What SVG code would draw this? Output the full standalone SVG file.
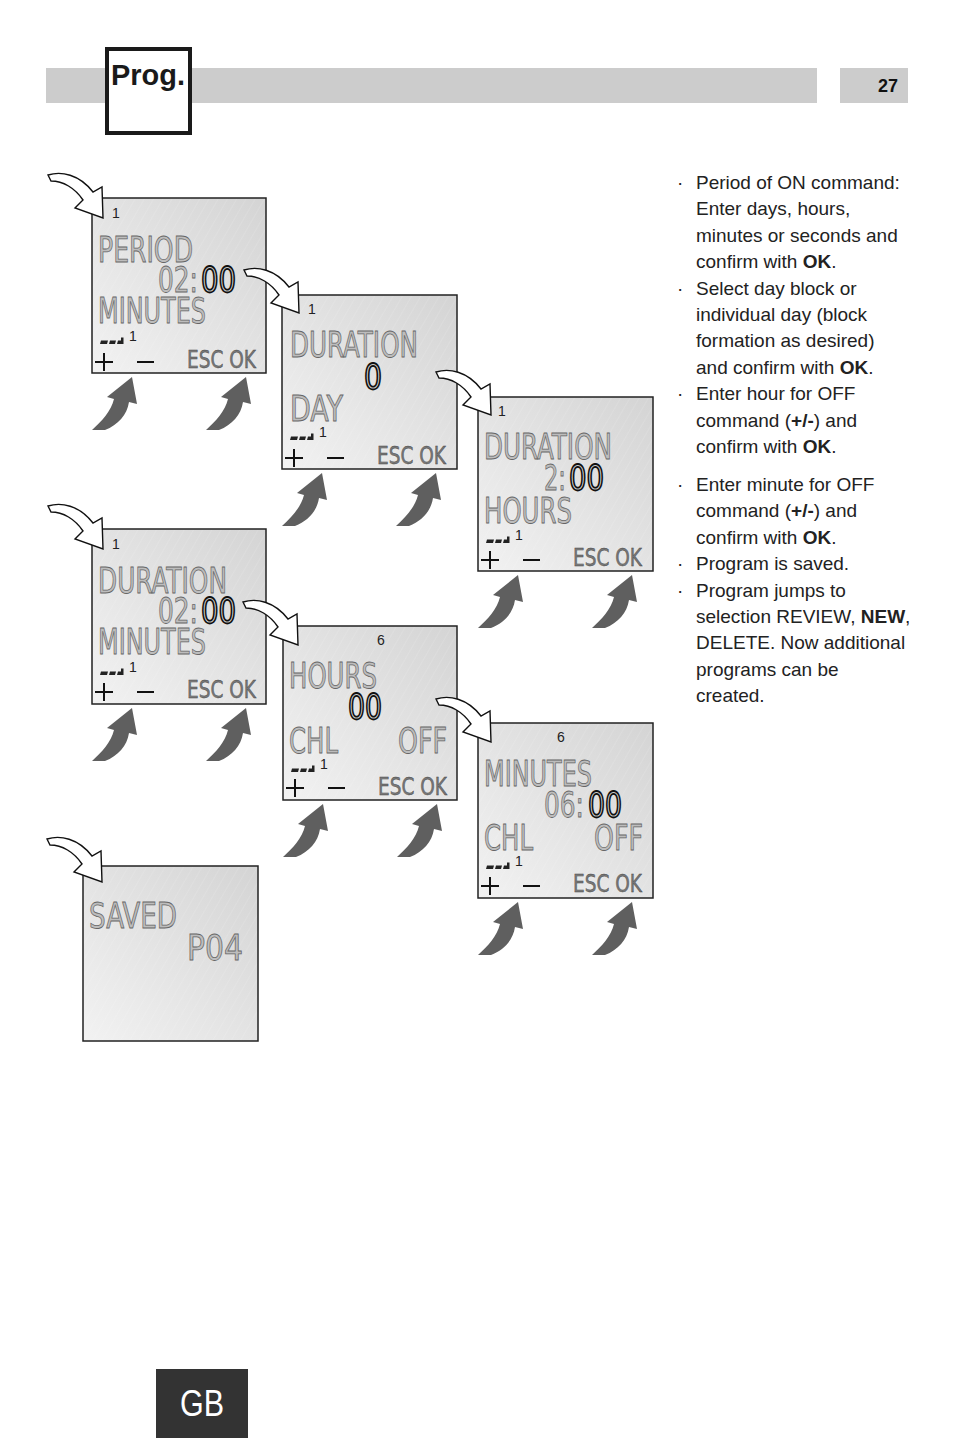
<svg xmlns="http://www.w3.org/2000/svg" xmlns:xlink="http://www.w3.org/1999/xlink" width="954" height="1438" viewBox="0 0 954 1438">
<style>
.seg{font-family:"Liberation Sans Narrow","DejaVu Sans Condensed","Liberation Sans",sans-serif;font-size:35px;fill:#bdbdbd;stroke:#666;stroke-width:0.8}
.segb{font-family:"Liberation Sans Narrow","DejaVu Sans Condensed","Liberation Sans",sans-serif;font-size:35px;fill:#d4d4d4;stroke:#111;stroke-width:1.8}
.esc{font-family:"Liberation Sans Narrow","DejaVu Sans Condensed","Liberation Sans",sans-serif;font-size:24px;fill:#777;stroke:#444;stroke-width:0.4}
.ind{font-family:"Liberation Sans",sans-serif;font-size:14px;fill:#222}
.pm{stroke:#111;stroke-width:2;fill:none}
.sym{fill:#222}
.lcd{fill:url(#lcdg);stroke:#222;stroke-width:1.5}
.hatch{fill:url(#hatch)}
.body{font-family:"Liberation Sans",Arial,sans-serif;font-size:19px;fill:#222}
.body tspan.b{font-weight:bold}
.enter{fill:#fff;stroke:#111;stroke-width:1.4;stroke-linejoin:miter}
.press{fill:#5f5f5f}
</style>
<defs>
<linearGradient id="lcdg" x1="1" y1="0" x2="0" y2="1">
<stop offset="0" stop-color="#d4d4d4"/>
<stop offset="1" stop-color="#f2f2f2"/>
</linearGradient>
<pattern id="hatch" width="8" height="8" patternUnits="userSpaceOnUse" patternTransform="rotate(30)">
<line x1="0" y1="0" x2="0" y2="8" stroke="#ffffff" stroke-opacity="0.22" stroke-width="1"/>
</pattern>
<path id="enterArrow" class="enter" d="M-55,-43 C-42,-47 -24,-44 -10,-26 L-1,-31 L0,0 L-28,-10 L-20,-18 C-28,-30 -40,-37 -52,-37 Z"/>
<path id="pressArrow" class="press" d="M0,0 L5,27 L-3,25 C-5,38 -14,48 -27,53 L-40,53 C-30,44 -21,34 -18,22 L-25,20 Z"/>
<g id="penSym">
<path d="M8,146 l1,-3.5 h7 l-1,3.5 z M17,146 l1,-3.5 h6 l-1,3.5 z M25,146 l1,-3.5 h3 v-3 h2.5 v6.5 z"/>
</g>
</defs>

<rect width="954" height="1438" fill="#fff"/>

<!-- header -->
<g id="header">
<rect x="46" y="68" width="771" height="35" fill="#cccccc"/>
<rect x="107" y="49" width="83" height="84" fill="#fff" stroke="#1a1a1a" stroke-width="4"/>
<text x="111" y="85" font-family="Liberation Sans,Arial,sans-serif" font-weight="bold" font-size="30" fill="#1a1a1a" textLength="74" lengthAdjust="spacingAndGlyphs">Prog.</text>
<rect x="840" y="68" width="68" height="35" fill="#cccccc"/>
<text x="898" y="92" text-anchor="end" font-family="Liberation Sans,Arial,sans-serif" font-weight="bold" font-size="18" fill="#111">27</text>
</g>

<!-- Panel 1 -->
<g id="panel1">
<rect class="lcd" x="92" y="198" width="174" height="175"/>
<rect class="hatch" x="93" y="199" width="172" height="173"/>
<text class="ind" x="112" y="218">1</text>
<text class="seg" x="98" y="262" textLength="95" lengthAdjust="spacingAndGlyphs">PERIOD</text>
<text class="seg" x="158" y="292" textLength="40" lengthAdjust="spacingAndGlyphs">02:</text>
<text class="segb" x="201" y="292" textLength="35" lengthAdjust="spacingAndGlyphs">00</text>
<text class="seg" x="98" y="323" textLength="108" lengthAdjust="spacingAndGlyphs">MINUTES</text>
<use xlink:href="#penSym" x="92" y="198" class="sym"/>
<text class="ind" x="129" y="341" font-size="11">1</text>
<path class="pm" d="M95,362 h18 M104,353 v18 M137,362 h17"/>
<text class="esc" x="187" y="368" textLength="69" lengthAdjust="spacingAndGlyphs">ESC OK</text>
</g>

<!-- Panel 2 -->
<g id="panel2">
<rect class="lcd" x="282" y="295" width="175" height="174"/>
<rect class="hatch" x="283" y="296" width="173" height="172"/>
<text class="ind" x="308" y="314">1</text>
<text class="seg" x="290" y="357" textLength="128" lengthAdjust="spacingAndGlyphs">DURATION</text>
<text class="segb" x="364" y="389" textLength="18" lengthAdjust="spacingAndGlyphs">0</text>
<text class="seg" x="290" y="421" textLength="53" lengthAdjust="spacingAndGlyphs">DAY</text>
<use xlink:href="#penSym" x="282" y="294" class="sym"/>
<text class="ind" x="319" y="437" font-size="11">1</text>
<path class="pm" d="M285,458 h18 M294,449 v18 M327,458 h17"/>
<text class="esc" x="377" y="464" textLength="69" lengthAdjust="spacingAndGlyphs">ESC OK</text>
</g>

<!-- Panel 3 -->
<g id="panel3">
<rect class="lcd" x="478" y="397" width="175" height="174"/>
<rect class="hatch" x="479" y="398" width="173" height="172"/>
<text class="ind" x="498" y="416">1</text>
<text class="seg" x="484" y="459" textLength="128" lengthAdjust="spacingAndGlyphs">DURATION</text>
<text class="seg" x="544" y="490" textLength="22" lengthAdjust="spacingAndGlyphs">2:</text>
<text class="segb" x="569" y="490" textLength="35" lengthAdjust="spacingAndGlyphs">00</text>
<text class="seg" x="484" y="523" textLength="88" lengthAdjust="spacingAndGlyphs">HOURS</text>
<use xlink:href="#penSym" x="478" y="397" class="sym"/>
<text class="ind" x="515" y="540" font-size="11">1</text>
<path class="pm" d="M481,560 h18 M490,551 v18 M523,560 h17"/>
<text class="esc" x="573" y="566" textLength="69" lengthAdjust="spacingAndGlyphs">ESC OK</text>
</g>

<!-- Panel 4 -->
<g id="panel4">
<rect class="lcd" x="92" y="529" width="174" height="175"/>
<rect class="hatch" x="93" y="530" width="172" height="173"/>
<text class="ind" x="112" y="549">1</text>
<text class="seg" x="98" y="593" textLength="129" lengthAdjust="spacingAndGlyphs">DURATION</text>
<text class="seg" x="158" y="623" textLength="40" lengthAdjust="spacingAndGlyphs">02:</text>
<text class="segb" x="201" y="623" textLength="35" lengthAdjust="spacingAndGlyphs">00</text>
<text class="seg" x="98" y="654" textLength="108" lengthAdjust="spacingAndGlyphs">MINUTES</text>
<use xlink:href="#penSym" x="92" y="529" class="sym"/>
<text class="ind" x="129" y="672" font-size="11">1</text>
<path class="pm" d="M95,692 h18 M104,683 v18 M137,692 h17"/>
<text class="esc" x="187" y="698" textLength="69" lengthAdjust="spacingAndGlyphs">ESC OK</text>
</g>

<!-- Panel 5 -->
<g id="panel5">
<rect class="lcd" x="283" y="626" width="174" height="174"/>
<rect class="hatch" x="284" y="627" width="172" height="172"/>
<text class="ind" x="377" y="645">6</text>
<text class="seg" x="289" y="688" textLength="88" lengthAdjust="spacingAndGlyphs">HOURS</text>
<text class="segb" x="348" y="719" textLength="34" lengthAdjust="spacingAndGlyphs">00</text>
<text class="seg" x="289" y="753" textLength="49" lengthAdjust="spacingAndGlyphs">CHL</text>
<text class="seg" x="398" y="753" textLength="49" lengthAdjust="spacingAndGlyphs">OFF</text>
<use xlink:href="#penSym" x="283" y="626" class="sym"/>
<text class="ind" x="320" y="769" font-size="11">1</text>
<path class="pm" d="M286,788 h18 M295,779 v18 M328,788 h17"/>
<text class="esc" x="378" y="795" textLength="69" lengthAdjust="spacingAndGlyphs">ESC OK</text>
</g>

<!-- Panel 6 -->
<g id="panel6">
<rect class="lcd" x="478" y="723" width="175" height="175"/>
<rect class="hatch" x="479" y="724" width="173" height="173"/>
<text class="ind" x="557" y="742">6</text>
<text class="seg" x="484" y="786" textLength="108" lengthAdjust="spacingAndGlyphs">MINUTES</text>
<text class="seg" x="544" y="817" textLength="40" lengthAdjust="spacingAndGlyphs">06:</text>
<text class="segb" x="588" y="817" textLength="34" lengthAdjust="spacingAndGlyphs">00</text>
<text class="seg" x="484" y="850" textLength="49" lengthAdjust="spacingAndGlyphs">CHL</text>
<text class="seg" x="594" y="850" textLength="49" lengthAdjust="spacingAndGlyphs">OFF</text>
<use xlink:href="#penSym" x="478" y="723" class="sym"/>
<text class="ind" x="515" y="866" font-size="11">1</text>
<path class="pm" d="M481,886 h18 M490,877 v18 M523,886 h17"/>
<text class="esc" x="573" y="892" textLength="69" lengthAdjust="spacingAndGlyphs">ESC OK</text>
</g>

<!-- Panel 7 -->
<g id="panel7">
<rect class="lcd" x="83" y="866" width="175" height="175"/>
<rect class="hatch" x="84" y="867" width="173" height="173"/>
<text class="seg" x="89" y="928" textLength="88" lengthAdjust="spacingAndGlyphs">SAVED</text>
<text class="seg" x="187" y="960" textLength="56" lengthAdjust="spacingAndGlyphs">P04</text>
</g>

<!-- connectors -->
<g id="connectors">
<use xlink:href="#enterArrow" x="103" y="218"/>
<use xlink:href="#enterArrow" x="299" y="313"/>
<use xlink:href="#enterArrow" x="491" y="415"/>
<use xlink:href="#enterArrow" x="103" y="549"/>
<use xlink:href="#enterArrow" x="298" y="645"/>
<use xlink:href="#enterArrow" x="491" y="742"/>
<use xlink:href="#enterArrow" x="102" y="882"/>
<use xlink:href="#pressArrow" x="132" y="377"/>
<use xlink:href="#pressArrow" x="246" y="377"/>
<use xlink:href="#pressArrow" x="322" y="473"/>
<use xlink:href="#pressArrow" x="436" y="473"/>
<use xlink:href="#pressArrow" x="518" y="575"/>
<use xlink:href="#pressArrow" x="632" y="575"/>
<use xlink:href="#pressArrow" x="132" y="708"/>
<use xlink:href="#pressArrow" x="246" y="708"/>
<use xlink:href="#pressArrow" x="323" y="804"/>
<use xlink:href="#pressArrow" x="437" y="804"/>
<use xlink:href="#pressArrow" x="518" y="902"/>
<use xlink:href="#pressArrow" x="632" y="902"/>
</g>

<!-- instructions -->
<g id="instructions" class="body">
<text x="677" y="189">·</text>
<text x="696" y="189">Period of ON command:</text>
<text x="696" y="215.4">Enter days, hours,</text>
<text x="696" y="241.8">minutes or seconds and</text>
<text x="696" y="268.2">confirm with <tspan class="b">OK</tspan>.</text>
<text x="677" y="294.6">·</text>
<text x="696" y="294.6">Select day block or</text>
<text x="696" y="321">individual day (block</text>
<text x="696" y="347.4">formation as desired)</text>
<text x="696" y="373.8">and confirm with <tspan class="b">OK</tspan>.</text>
<text x="677" y="400.2">·</text>
<text x="696" y="400.2">Enter hour for OFF</text>
<text x="696" y="426.6">command (<tspan class="b">+/-</tspan>) and</text>
<text x="696" y="453">confirm with <tspan class="b">OK</tspan>.</text>
<text x="677" y="491">·</text>
<text x="696" y="491">Enter minute for OFF</text>
<text x="696" y="517.4">command (<tspan class="b">+/-</tspan>) and</text>
<text x="696" y="543.8">confirm with <tspan class="b">OK</tspan>.</text>
<text x="677" y="570.2">·</text>
<text x="696" y="570.2">Program is saved.</text>
<text x="677" y="596.6">·</text>
<text x="696" y="596.6">Program jumps to</text>
<text x="696" y="623">selection REVIEW, <tspan class="b">NEW</tspan>,</text>
<text x="696" y="649.4">DELETE. Now additional</text>
<text x="696" y="675.8">programs can be</text>
<text x="696" y="702.2">created.</text>
</g>

<!-- footer -->
<g id="footer">
<rect x="156" y="1369" width="92" height="69" fill="#333333"/>
<text x="180" y="1416" font-family="Liberation Sans,Arial,sans-serif" font-size="37" fill="#fff" textLength="44" lengthAdjust="spacingAndGlyphs">GB</text>
</g>
</svg>
